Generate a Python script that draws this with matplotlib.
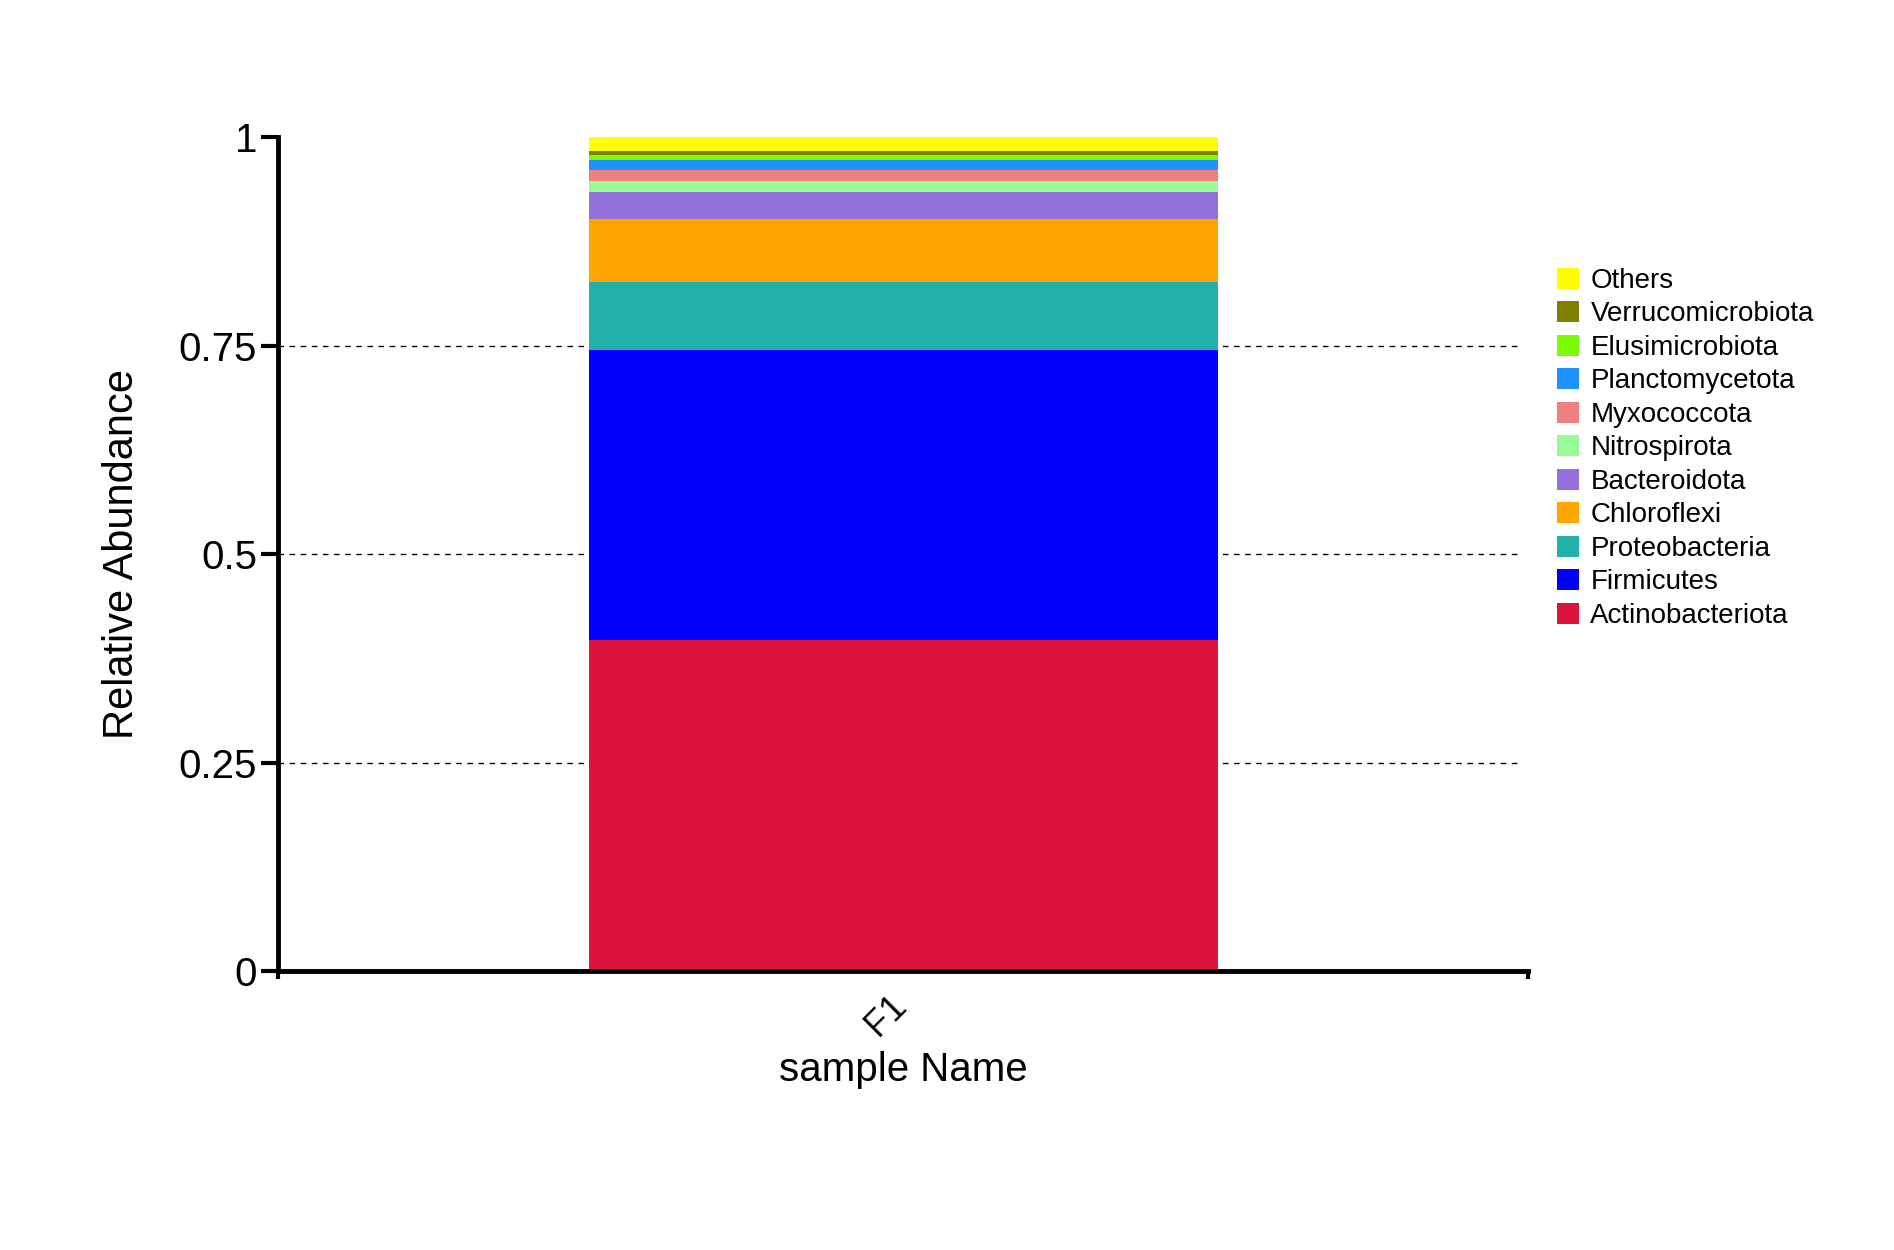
import matplotlib
matplotlib.use("Agg")
import matplotlib.pyplot as plt
import matplotlib.transforms as mtransforms

plt.rcParams["font.family"] = ["Liberation Sans", "DejaVu Sans"]

samples = ["F1"]
phyla = ["Actinobacteriota", "Firmicutes", "Proteobacteria", "Chloroflexi",
         "Bacteroidota", "Nitrospirota", "Myxococcota", "Planctomycetota",
         "Elusimicrobiota", "Verrucomicrobiota", "Others"]
abundance = [0.397, 0.348, 0.081, 0.076, 0.032, 0.014, 0.013, 0.012,
             0.006, 0.005, 0.016]
colors = ["#DC143C", "#0000FF", "#20B2AA", "#FFA500", "#9370DB", "#98FB98",
          "#F08080", "#1E90FF", "#7CFC00", "#808000", "#FFFF00"]
yticks = [0, 0.25, 0.5, 0.75, 1]
ytick_labels = ["0", "0.25", "0.5", "0.75", "1"]

fig = plt.figure(figsize=(18.94, 12.5), dpi=100)
ax = fig.add_axes([0.147, 0.2232, 0.66, 0.667])

bottom = 0.0
handles = []
for name, val, col in zip(phyla, abundance, colors):
    b = ax.bar(samples, [val], bottom=bottom, width=0.503, color=col,
               label=name, zorder=2)
    handles.append(b)
    bottom += val

# dashed reference lines, stopping a little short of the right edge
for y in [0.25, 0.5, 0.75]:
    ax.plot([-0.5, 0.494], [y, y], color="black", linestyle=(0, (4, 4)),
            linewidth=1.0, zorder=1)

ax.set_xlim(-0.5, 0.5)
ax.set_ylim(0, 1)
ax.set_yticks(yticks)
ax.set_yticklabels(ytick_labels, fontsize=29)
ax.tick_params(axis="y", length=12, width=3)
ax.tick_params(axis="x", length=0, pad=14)
ax.set_xticks([0])
ax.set_xticklabels(samples, fontsize=26, rotation=45, ha="right",
                   rotation_mode="anchor")
shift = mtransforms.ScaledTranslation(-0.15, 0.02, fig.dpi_scale_trans)
for lab in ax.get_xticklabels():
    lab.set_transform(lab.get_transform() + shift)
ax.set_xticks([-0.5, 0.5], minor=True)
ax.tick_params(axis="x", which="minor", length=6, width=3)

for s in ["top", "right"]:
    ax.spines[s].set_visible(False)
for s in ["left", "bottom"]:
    ax.spines[s].set_linewidth(3.5)

ax.set_ylabel("Relative Abundance", fontsize=30, labelpad=26)
ax.set_xlabel("sample Name", fontsize=29, labelpad=6)

leg = ax.legend(handles[::-1], phyla[::-1], loc="upper left",
                bbox_to_anchor=(1.014, 0.857), frameon=False, fontsize=20,
                handlelength=0.8, handleheight=0.8, handletextpad=0.4,
                labelspacing=0.26, borderaxespad=0)

fig.savefig("out.png", dpi=100)
